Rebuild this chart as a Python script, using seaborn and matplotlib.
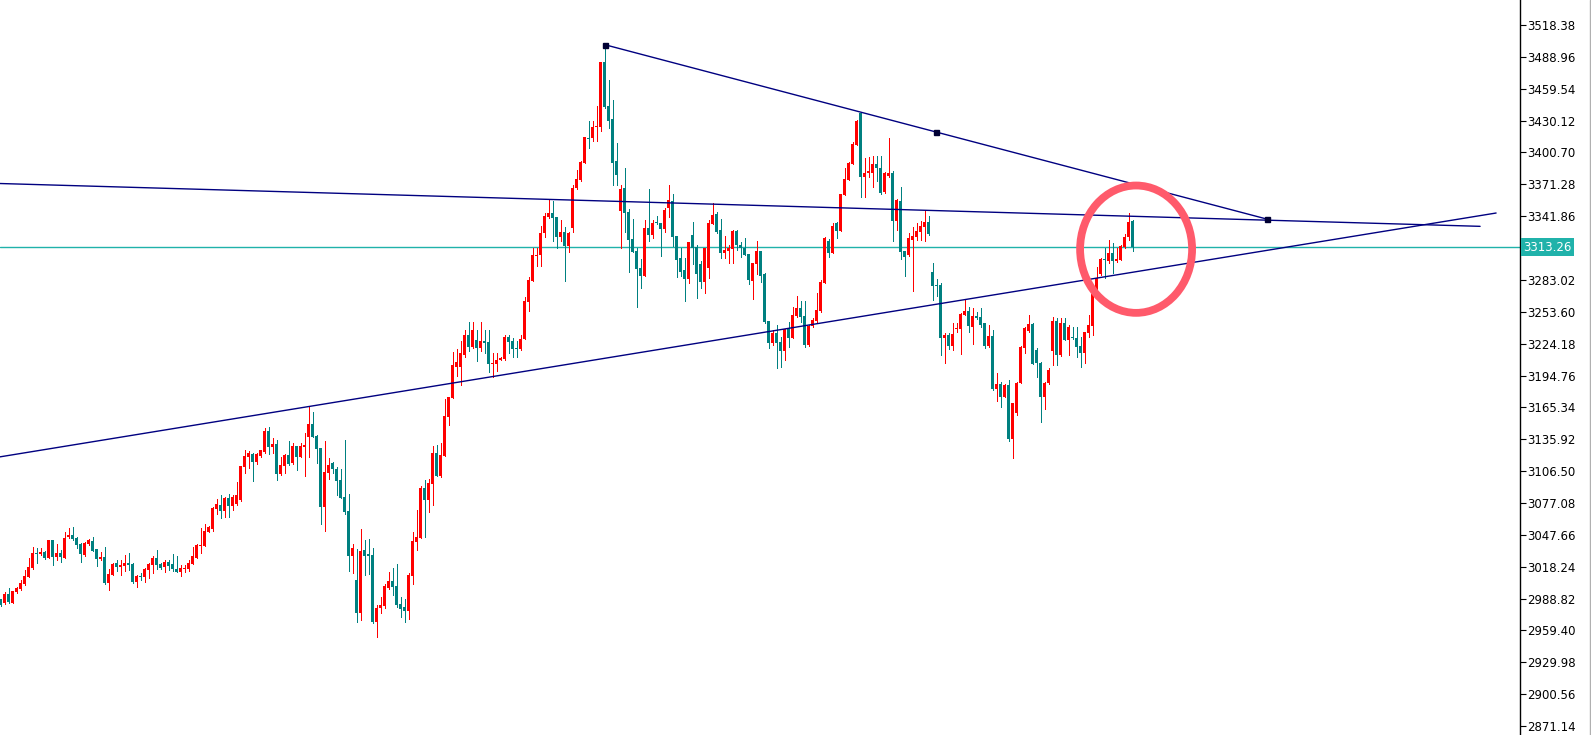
import numpy as np
import pandas as pd
import matplotlib
matplotlib.use("Agg")
import matplotlib.pyplot as plt
import seaborn as sns
from matplotlib.patches import Ellipse
from matplotlib.lines import Line2D
from matplotlib.transforms import blended_transform_factory

# ---------------- data (OHLC) ----------------
opens = [2988.0, 2984.3, 2992.9, 2985.0, 2994.5, 2997.6, 3002.2, 3009.0, 3017.0, 3030.8,
         3029.6, 3031.7, 3026.5, 3042.8, 3027.1, 3030.8, 3026.5, 3045.6, 3047.4, 3044.7,
         3039.4, 3029.0, 3039.4, 3042.2, 3034.5, 3025.3, 3027.4, 3003.4, 3010.8, 3021.6,
         3018.2, 3019.1, 3021.6, 3020.7, 3004.4, 3009.6, 3009.0, 3015.4, 3020.0, 3026.5,
         3020.9, 3017.6, 3022.5, 3021.0, 3016.4, 3013.6, 3016.4, 3016.4, 3021.0, 3026.6,
         3037.7, 3037.7, 3050.6, 3053.4, 3071.5, 3075.2, 3070.0, 3082.0, 3074.3, 3076.1,
         3080.0, 3110.6, 3119.8, 3122.3, 3115.2, 3120.5, 3124.1, 3143.5, 3129.1, 3131.5,
         3103.8, 3111.2, 3121.4, 3113.7, 3129.7, 3119.8, 3129.1, 3138.3, 3150.0, 3138.9,
         3127.8, 3073.7, 3105.1, 3113.7, 3108.4, 3098.3, 3082.9, 3070.0, 3028.4, 3006.0,
         2975.7, 3033.6, 3029.9, 3029.0, 2967.1, 2980.0, 2981.9, 2998.8, 3005.0, 3000.3,
         2983.7, 2980.9, 2977.6, 3009.9, 3041.3, 3045.0, 3090.8, 3079.8, 3094.8, 3123.2,
         3101.9, 3120.7, 3156.7, 3173.7, 3203.0, 3202.9, 3213.7, 3232.2, 3221.3, 3227.5,
         3219.9, 3226.6, 3226.0, 3205.1, 3205.4, 3209.1, 3210.0, 3230.6, 3226.6, 3220.4,
         3219.2, 3228.5, 3262.9, 3282.3, 3305.1, 3305.7, 3326.1, 3340.8, 3345.1, 3341.4,
         3322.4, 3327.5, 3314.3, 3330.7, 3367.9, 3375.3, 3391.3, 3414.3, 3413.8, 3424.5,
         3424.5, 3484.5, 3443.6, 3431.6, 3392.8, 3346.7, 3368.2, 3345.5, 3320.5, 3310.0,
         3294.3, 3286.9, 3330.7, 3324.5, 3335.9, 3335.9, 3329.8, 3349.7, 3356.2, 3323.9,
         3303.0, 3292.2, 3284.1, 3324.2, 3313.7, 3297.4, 3281.4, 3294.3, 3334.4, 3343.9,
         3329.1, 3308.2, 3310.0, 3311.3, 3328.2, 3315.3, 3312.2, 3306.7, 3282.0, 3297.4,
         3309.7, 3288.2, 3245.1, 3225.0, 3234.3, 3225.7, 3217.7, 3238.9, 3229.1, 3249.7,
         3257.4, 3249.7, 3222.9, 3240.5, 3244.8, 3254.3, 3280.5, 3319.0, 3307.6, 3335.3,
         3328.5, 3361.4, 3375.3, 3390.1, 3407.6, 3437.4, 3377.8, 3381.5, 3381.5, 3390.1,
         3386.1, 3364.5, 3379.0, 3382.0, 3337.7, 3356.2, 3310.0, 3306.0, 3320.0, 3323.0,
         3327.5, 3332.2, 3336.8, 3290.6, 3278.3, 3278.3, 3229.1, 3232.2, 3222.3, 3237.4,
         3238.0, 3250.6, 3254.3, 3239.8, 3249.7, 3249.1, 3243.0, 3222.0, 3231.2, 3182.6,
         3186.9, 3175.2, 3186.0, 3136.4, 3160.4, 3187.6, 3220.4, 3235.8, 3242.3, 3218.3,
         3206.3, 3175.2, 3187.6, 3217.4, 3245.1, 3213.7, 3243.5, 3227.5, 3230.6, 3229.7,
         3222.0, 3215.2, 3234.3, 3240.8, 3269.1, 3288.5, 3302.1, 3300.8, 3308.2, 3300.8,
         3301.4, 3313.7, 3322.4, 3337.4]

highs = [2988.7, 2994.5, 2998.2, 2995.7, 2999.7, 3005.9, 3015.1, 3026.2, 3036.4, 3035.1,
         3035.1, 3033.0, 3042.8, 3042.8, 3039.1, 3033.6, 3050.2, 3054.2, 3054.8, 3045.9,
         3040.4, 3041.3, 3043.4, 3045.9, 3034.5, 3032.1, 3036.7, 3016.0, 3021.6, 3024.4,
         3024.4, 3029.0, 3030.8, 3021.6, 3010.5, 3012.7, 3016.7, 3021.6, 3028.1, 3033.6,
         3021.6, 3024.4, 3024.4, 3029.9, 3028.1, 3020.0, 3020.0, 3024.4, 3036.7, 3039.2,
         3054.0, 3057.4, 3055.8, 3073.0, 3080.4, 3084.4, 3082.9, 3085.4, 3084.1, 3096.4,
         3111.2, 3126.0, 3125.1, 3122.9, 3123.5, 3126.0, 3146.6, 3146.9, 3137.4, 3135.2,
         3119.8, 3122.0, 3134.3, 3132.8, 3129.7, 3132.8, 3141.4, 3166.6, 3161.1, 3139.8,
         3127.8, 3134.3, 3118.3, 3115.2, 3110.0, 3108.4, 3135.2, 3085.4, 3039.2, 3034.6,
         3053.0, 3042.8, 3043.7, 3035.4, 2982.8, 2990.5, 3002.2, 3013.3, 3017.0, 3020.7,
         2990.5, 2988.3, 3012.7, 3050.2, 3070.5, 3092.7, 3098.2, 3099.2, 3129.6, 3130.5,
         3132.4, 3173.1, 3174.6, 3216.7, 3219.0, 3226.6, 3236.8, 3244.4, 3244.4, 3237.0,
         3244.4, 3236.8, 3236.8, 3215.3, 3215.8, 3212.1, 3232.2, 3231.9, 3229.4, 3226.6,
         3232.2, 3267.5, 3286.0, 3312.2, 3312.2, 3333.1, 3344.5, 3356.8, 3356.2, 3341.4,
         3338.4, 3331.6, 3327.5, 3370.4, 3384.5, 3393.1, 3415.0, 3430.0, 3430.0, 3443.9,
         3484.5, 3500.3, 3467.6, 3449.2, 3409.2, 3370.7, 3386.1, 3348.2, 3339.5, 3312.2,
         3302.6, 3338.4, 3367.0, 3338.4, 3342.0, 3335.9, 3349.7, 3370.4, 3362.4, 3323.9,
         3312.2, 3303.0, 3318.0, 3336.5, 3315.0, 3300.8, 3312.2, 3338.4, 3353.8, 3345.5,
         3339.3, 3323.6, 3315.3, 3329.1, 3329.1, 3318.0, 3322.0, 3306.7, 3298.9, 3319.2,
         3309.7, 3289.1, 3245.1, 3236.8, 3241.4, 3230.6, 3238.0, 3244.4, 3258.3, 3268.2,
         3263.6, 3263.6, 3241.4, 3247.6, 3270.7, 3282.9, 3322.9, 3320.5, 3335.9, 3336.8,
         3362.4, 3386.1, 3392.2, 3410.7, 3430.7, 3438.4, 3395.3, 3396.8, 3397.4, 3397.4,
         3397.4, 3383.0, 3414.3, 3383.6, 3357.7, 3368.5, 3310.0, 3326.1, 3332.2, 3335.3,
         3337.7, 3346.9, 3342.0, 3298.9, 3283.6, 3279.9, 3233.7, 3233.7, 3242.9, 3242.9,
         3252.8, 3264.5, 3258.3, 3256.8, 3253.7, 3256.8, 3243.0, 3241.4, 3236.8, 3196.8,
         3189.0, 3186.6, 3190.6, 3169.6, 3189.0, 3222.3, 3239.8, 3250.6, 3243.5, 3219.9,
         3207.5, 3189.0, 3201.4, 3249.1, 3247.6, 3247.6, 3247.6, 3241.4, 3239.8, 3239.8,
         3230.6, 3235.2, 3250.6, 3270.7, 3295.2, 3303.0, 3312.8, 3319.9, 3316.8, 3312.2,
         3315.3, 3325.4, 3344.5, 3338.4]

lows = [2981.9, 2983.7, 2985.0, 2984.3, 2993.6, 2996.7, 3001.3, 3008.3, 3016.4, 3021.9,
        3029.0, 3024.9, 3026.5, 3020.1, 3024.4, 3022.8, 3026.5, 3044.4, 3042.8, 3035.7,
        3022.8, 3028.1, 3038.5, 3033.0, 3019.1, 3024.4, 3001.9, 2997.0, 3010.2, 3014.5,
        3010.5, 3014.5, 3015.1, 3003.4, 2999.7, 3005.9, 3004.4, 3008.0, 3012.0, 3015.7,
        3015.7, 3013.6, 3015.1, 3014.5, 3013.3, 3009.9, 3013.0, 3014.5, 3020.7, 3026.0,
        3031.2, 3037.4, 3050.0, 3051.2, 3066.9, 3063.5, 3063.8, 3064.1, 3070.9, 3075.2,
        3079.0, 3105.1, 3109.7, 3097.7, 3113.1, 3119.8, 3123.5, 3122.0, 3123.5, 3098.3,
        3102.9, 3105.1, 3112.1, 3113.1, 3107.5, 3119.8, 3102.0, 3119.8, 3137.7, 3114.3,
        3057.7, 3051.5, 3098.9, 3104.4, 3084.4, 3082.0, 3066.9, 3014.3, 3012.7, 2967.5,
        2969.0, 3010.5, 3011.4, 2965.9, 2953.6, 2975.7, 2980.0, 2997.3, 2992.3, 2981.3,
        2971.7, 2967.4, 2969.6, 3002.5, 3033.9, 3045.0, 3045.9, 3068.7, 3075.1, 3101.9,
        3101.0, 3120.4, 3149.0, 3173.7, 3194.3, 3186.0, 3211.8, 3217.7, 3220.5, 3208.4,
        3217.0, 3215.3, 3198.3, 3193.3, 3199.2, 3208.8, 3209.1, 3215.8, 3212.1, 3212.1,
        3218.3, 3228.5, 3254.6, 3282.3, 3295.9, 3295.9, 3322.9, 3339.9, 3318.9, 3312.2,
        3318.9, 3282.3, 3308.5, 3327.3, 3367.3, 3374.6, 3391.3, 3404.6, 3411.3, 3411.3,
        3420.8, 3441.5, 3423.6, 3370.7, 3370.7, 3312.2, 3327.5, 3290.6, 3309.1, 3258.3,
        3275.8, 3286.9, 3319.2, 3321.5, 3334.7, 3305.1, 3327.5, 3340.8, 3314.3, 3286.0,
        3286.6, 3263.8, 3279.9, 3297.4, 3266.6, 3275.8, 3271.2, 3285.0, 3334.4, 3326.1,
        3303.0, 3303.0, 3298.9, 3298.9, 3310.6, 3304.0, 3306.0, 3279.0, 3265.4, 3288.2,
        3281.4, 3243.5, 3219.9, 3222.9, 3201.4, 3202.9, 3209.1, 3221.3, 3229.1, 3249.1,
        3244.4, 3221.3, 3222.0, 3239.3, 3244.4, 3253.7, 3280.5, 3304.5, 3307.6, 3322.0,
        3328.5, 3361.4, 3375.3, 3390.1, 3407.6, 3359.9, 3359.3, 3378.3, 3368.5, 3374.6,
        3362.4, 3363.6, 3377.8, 3319.2, 3329.1, 3302.3, 3286.9, 3305.4, 3273.1, 3319.9,
        3319.9, 3319.2, 3324.5, 3264.5, 3268.0, 3213.7, 3206.0, 3219.0, 3218.3, 3235.2,
        3214.3, 3250.6, 3235.2, 3223.9, 3246.6, 3239.8, 3219.9, 3221.3, 3181.4, 3171.2,
        3165.9, 3175.2, 3134.6, 3118.3, 3158.3, 3187.6, 3215.2, 3235.2, 3205.1, 3193.7,
        3152.1, 3163.8, 3186.6, 3204.5, 3204.5, 3213.1, 3227.5, 3213.7, 3228.2, 3212.1,
        3202.9, 3206.0, 3230.6, 3232.2, 3269.1, 3287.6, 3284.5, 3298.4, 3289.7, 3299.3,
        3301.4, 3312.8, 3319.9, 3310.0]

closes = [2982.8, 2992.7, 2985.9, 2995.7, 2998.8, 3003.1, 3009.6, 3018.2, 3030.8, 3029.9,
          3031.7, 3026.5, 3042.8, 3026.8, 3030.8, 3027.1, 3044.7, 3047.4, 3044.1, 3038.5,
          3029.9, 3040.4, 3042.8, 3033.0, 3025.6, 3027.4, 3003.4, 3011.7, 3021.0, 3018.2,
          3020.0, 3021.6, 3020.0, 3004.4, 3009.6, 3008.7, 3016.0, 3020.7, 3026.5, 3020.0,
          3017.3, 3022.5, 3019.1, 3016.4, 3013.6, 3017.3, 3017.3, 3021.9, 3028.4, 3038.6,
          3038.3, 3051.2, 3055.2, 3072.4, 3076.1, 3070.0, 3082.0, 3074.3, 3082.9, 3084.4,
          3111.2, 3120.5, 3123.5, 3115.2, 3122.3, 3126.0, 3143.8, 3129.1, 3131.5, 3103.8,
          3112.1, 3121.4, 3113.1, 3129.7, 3119.8, 3129.7, 3130.6, 3150.0, 3138.3, 3126.9,
          3073.7, 3106.0, 3112.1, 3108.1, 3097.7, 3082.0, 3068.7, 3028.4, 3035.5, 2975.8,
          3032.7, 3028.4, 3028.1, 2967.1, 2980.0, 2982.8, 3000.3, 3005.0, 2999.7, 2983.1,
          2979.1, 2977.6, 3010.5, 3041.9, 3045.6, 3090.8, 3079.8, 3095.5, 3123.2, 3101.9,
          3121.3, 3157.4, 3174.6, 3204.5, 3207.2, 3215.3, 3232.2, 3221.3, 3236.8, 3219.9,
          3226.9, 3225.0, 3205.1, 3206.6, 3209.1, 3210.7, 3230.6, 3225.4, 3219.5, 3219.2,
          3228.5, 3263.6, 3282.9, 3306.0, 3306.0, 3326.6, 3342.0, 3345.1, 3340.5, 3322.4,
          3327.5, 3314.3, 3326.6, 3368.2, 3375.9, 3391.9, 3415.0, 3413.4, 3424.5, 3425.4,
          3484.5, 3442.4, 3430.0, 3391.3, 3379.9, 3367.0, 3345.1, 3319.9, 3309.1, 3293.4,
          3286.9, 3330.7, 3324.5, 3335.9, 3335.3, 3329.8, 3347.6, 3356.8, 3322.9, 3301.4,
          3290.6, 3284.1, 3318.0, 3312.2, 3288.2, 3281.4, 3312.2, 3335.9, 3343.0, 3327.5,
          3308.2, 3310.6, 3312.2, 3328.2, 3315.3, 3312.5, 3306.0, 3283.0, 3298.4, 3309.7,
          3286.9, 3244.4, 3225.0, 3234.3, 3224.5, 3217.7, 3237.4, 3229.1, 3250.6, 3257.4,
          3248.5, 3222.9, 3240.5, 3246.0, 3255.2, 3281.4, 3322.0, 3307.6, 3332.8, 3328.5,
          3362.4, 3375.9, 3390.7, 3408.5, 3429.8, 3378.3, 3382.0, 3383.6, 3390.1, 3386.1,
          3363.6, 3381.5, 3382.0, 3337.7, 3356.8, 3309.1, 3304.5, 3321.5, 3323.6, 3328.2,
          3332.8, 3336.5, 3325.4, 3277.7, 3277.4, 3229.7, 3232.2, 3222.3, 3233.1, 3238.9,
          3251.6, 3254.3, 3240.5, 3249.7, 3248.2, 3241.4, 3222.0, 3231.2, 3182.3, 3186.9,
          3175.2, 3186.0, 3136.4, 3169.6, 3188.1, 3221.3, 3238.9, 3242.3, 3205.1, 3206.0,
          3175.2, 3188.1, 3199.8, 3245.1, 3213.7, 3243.5, 3227.5, 3239.8, 3229.1, 3221.3,
          3215.2, 3234.6, 3241.4, 3269.7, 3284.5, 3302.1, 3301.4, 3307.6, 3300.8, 3302.1,
          3314.3, 3322.9, 3336.8, 3313.26]

current_price = 3313.26
price_ticks = [3518.38, 3488.96, 3459.54, 3430.12, 3400.70, 3371.28, 3341.86,
               3283.02, 3253.60, 3224.18, 3194.76, 3165.34, 3135.92, 3106.50,
               3077.08, 3047.66, 3018.24, 2988.82, 2959.40, 2929.98, 2900.56, 2871.14]

# trend lines (bar index, price)
resist_x = [151.0, 233.8, 316.7]
resist_y = [3500.3, 3419.7, 3339.1]
flat_x = [-10.0, 369.9]
flat_y = [3373.1, 3332.5]
support_x = [-10.0, 373.9]
support_y = [3113.7, 3344.8]

# ---------------- drawing ----------------
sns.set_style("white")
plt.rcParams['font.family'] = ['DejaVu Sans']

W, H = 1591, 735
fig = plt.figure(figsize=(W / 100, H / 100), dpi=100)
ax = fig.add_axes([0, 0, 1520 / W, 1])

df = pd.DataFrame({"o": opens, "h": highs, "l": lows, "c": closes})
df["i"] = np.arange(len(df))
up = df["c"] >= df["o"]
RED, TEAL = "#FF0000", "#008080"
colors = np.where(up, RED, TEAL)

ax.vlines(df["i"], df["l"], df["h"], colors=colors, linewidth=0.72, zorder=2,
          antialiased=False)
bottom = np.minimum(df["o"], df["c"])
height = np.maximum(np.abs(df["c"] - df["o"]), 0.9)
ax.bar(df["i"], height, bottom=bottom, width=0.75, color=colors,
       edgecolor="none", linewidth=0, zorder=3, antialiased=False)

# trend lines through seaborn
NAVY = "#000080"
lines_df = pd.concat([
    pd.DataFrame({"x": resist_x, "y": resist_y, "line": "resist"}),
    pd.DataFrame({"x": flat_x, "y": flat_y, "line": "flat"}),
    pd.DataFrame({"x": support_x, "y": support_y, "line": "support"}),
])
sns.lineplot(data=lines_df, x="x", y="y", units="line", estimator=None,
             color=NAVY, linewidth=1.0, ax=ax, zorder=4, sort=False)
ax.plot(resist_x, resist_y, linestyle="none", marker="s", markersize=3.6,
        color="#000033", zorder=5)

# bid line
ax.axhline(current_price, color="#20B2AA", linewidth=1.0, zorder=1)

# highlight ellipse
ax.add_patch(Ellipse((283.9, 3311.4), width=28.0, height=117.6, fill=False,
                     edgecolor="#FF5A6B", linewidth=5.6, zorder=6))

# pixel-aligned x scale: 4 px per bar
ax.set_xlim(-0.125, 379.875)
ax.set_ylim(2862.8, 3541.5)
ax.set_xlabel("")
ax.set_ylabel("")
ax.set_xticks([])

ax.yaxis.tick_right()
ax.set_yticks(price_ticks)
ax.set_yticklabels([f"{v:.2f}" for v in price_ticks])
ax.tick_params(axis="y", length=4, width=0.8, color="black", pad=1,
               labelsize=8.5, labelcolor="black")
for s in ["top", "left", "bottom"]:
    ax.spines[s].set_visible(False)
ax.spines["right"].set_visible(True)
ax.spines["right"].set_color("black")
ax.spines["right"].set_linewidth(1.0)
ax.grid(False)

trans = blended_transform_factory(ax.transAxes, ax.transData)
ax.text(1.0 + 3 / 1520, current_price, f"{current_price:.2f}", transform=trans,
        ha="left", va="center", fontsize=8.5, color="white", clip_on=False,
        bbox=dict(boxstyle="square,pad=0.2", fc="#20B2AA", ec="none"), zorder=7)

fig.add_artist(Line2D([1 - 0.6 / W, 1 - 0.6 / W], [0, 1], color="#b0b0b0",
                      linewidth=1.0, transform=fig.transFigure))

fig.savefig("out.png", dpi=100)
